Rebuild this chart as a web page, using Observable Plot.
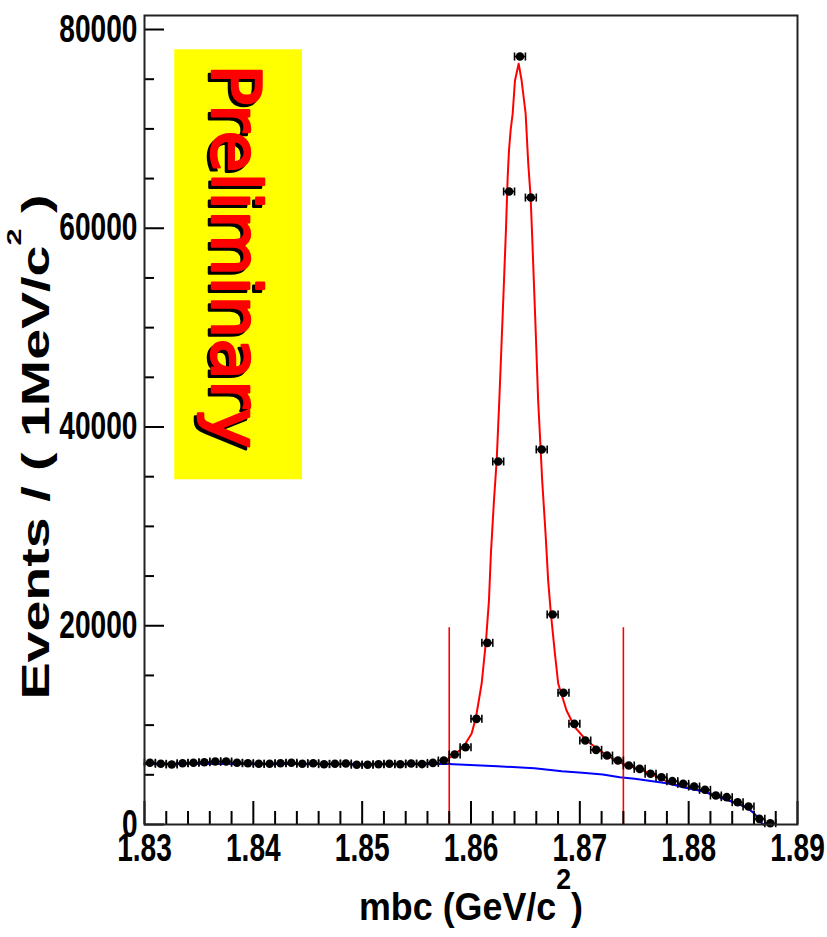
<!DOCTYPE html>
<html>
<head>
<meta charset="utf-8">
<script src="https://cdn.jsdelivr.net/npm/d3@7"></script>
<script src="https://cdn.jsdelivr.net/npm/@observablehq/plot@0.6"></script>
<style>
  html, body { margin: 0; padding: 0; background: #ffffff; }
</style>
</head>
<body>
<div id="chart"></div>
<script>
// Beam-constrained mass spectrum, 1 MeV/c^2 bins (bin centres in GeV/c^2)
const massBins = [
  1.8305, 1.8315, 1.8325, 1.8335, 1.8345, 1.8355, 1.8365, 1.8375, 1.8385, 1.8395,
  1.8405, 1.8415, 1.8425, 1.8435, 1.8445, 1.8455, 1.8465, 1.8475, 1.8485, 1.8495,
  1.8505, 1.8515, 1.8525, 1.8535, 1.8545, 1.8555, 1.8565, 1.8575, 1.8585, 1.8595,
  1.8605, 1.8615, 1.8625, 1.8635, 1.8645, 1.8655, 1.8665, 1.8675, 1.8685, 1.8695,
  1.8705, 1.8715, 1.8725, 1.8735, 1.8745, 1.8755, 1.8765, 1.8775, 1.8785, 1.8795,
  1.8805, 1.8815, 1.8825, 1.8835, 1.8845, 1.8855, 1.8865, 1.8875
];
const eventCounts = [
  6210, 6110, 6040, 6170, 6210, 6270, 6340, 6340, 6210, 6170,
  6110, 6110, 6170, 6210, 6110, 6170, 6070, 6110, 6140, 6010,
  6010, 6070, 6110, 6070, 6140, 6080, 6200, 6440, 7040, 7780,
  10630, 18280, 36530, 63700, 77280, 63090, 37740, 21130, 13250, 10130,
  8450, 7510, 6940, 6440, 5940, 5600, 5100, 4760, 4360, 4090,
  3820, 3490, 2920, 2750, 2240, 1810, 570, 130
];
const binHalfWidth = 0.0005;

// Total fit (signal + background)
const fitMass = [
  1.8300, 1.8443, 1.8550, 1.85716, 1.85761, 1.85838, 1.85929, 1.86006, 1.86046, 1.86098,
  1.86138, 1.86165, 1.86183, 1.86211, 1.86236, 1.86260, 1.86290, 1.86321, 1.86337, 1.86349,
  1.86364, 1.86383, 1.86404, 1.86438, 1.86465, 1.86502, 1.86526, 1.86548, 1.86560, 1.86590,
  1.86617, 1.86639, 1.86654, 1.86685, 1.86709, 1.86734, 1.86771, 1.86801, 1.86878, 1.86954,
  1.87061, 1.87183, 1.87306, 1.87428, 1.87550, 1.87642, 1.87734, 1.87826, 1.87950, 1.88128,
  1.88284, 1.88438, 1.88529, 1.88590, 1.88636, 1.88676, 1.88690
];
const fitEvents = [
  6110, 6100, 6108, 6169, 6440, 6944, 7779, 9157, 10798, 14189,
  18516, 22541, 27271, 32604, 36629, 42667, 51000, 59774, 65139, 67825,
  69838, 71548, 74869, 76550, 74869, 71548, 66516, 63125, 59774, 51000,
  42667, 37968, 34617, 29283, 24554, 21233, 17208, 14189, 11472, 9791,
  8453, 7447, 6611, 5937, 5605, 5132, 4730, 4150, 3800, 3380,
  2760, 2150, 1745, 1240, 676, 70, 0
];

// Background component
const bkgMass = [
  1.8300, 1.8443, 1.8579, 1.86243, 1.86583, 1.86835, 1.87023, 1.87211, 1.87367, 1.87505,
  1.87619, 1.87734, 1.87826, 1.87950, 1.88128, 1.88284, 1.88438, 1.88529, 1.88590, 1.88636,
  1.88676, 1.88690
];
const bkgEvents = [
  6110, 6100, 6090, 5866, 5665, 5364, 5203, 5032, 4760, 4599,
  4428, 4257, 4096, 3753, 3351, 2747, 2143, 1741, 1238, 674,
  70, 0
];

// Signal window cut lines
const signalWindow = [1.858, 1.874];
const windowTop = 19800;

// Axis ticks
const xMajorTicks = [1.83, 1.84, 1.85, 1.86, 1.87, 1.88, 1.89];
const xMinorTicks = [
  1.832, 1.834, 1.836, 1.838, 1.842, 1.844, 1.846, 1.848,
  1.852, 1.854, 1.856, 1.858, 1.862, 1.864, 1.866, 1.868,
  1.872, 1.874, 1.876, 1.878, 1.882, 1.884, 1.886, 1.888
];
const yMajorTicks = [0, 20000, 40000, 60000, 80000];
const yMinorTicks = [5000, 10000, 15000, 25000, 30000, 35000, 45000, 50000, 55000, 65000, 70000, 75000];

// Stamp and titles
const stampText = "Preliminary";
const stampBox = {x1: 1.83278, x2: 1.84452, y1: 34690, y2: 77960};
const stampAt = {x: 1.83824, y: 57190};
const xTitle = "mbc (GeV/c²)";
const yTitle = "Events / ( 1MeV/c² )";

const points = massBins.map((m, i) => ({mass: m, events: eventCounts[i], lo: m - binHalfWidth, hi: m + binHalfWidth}));
const fit = fitMass.map((m, i) => ({mass: m, events: fitEvents[i]}));
const bkg = bkgMass.map((m, i) => ({mass: m, events: bkgEvents[i]}));

// vertical end cap for the bin-width error bars
const capSymbol = {
  draw(ctx, size) {
    const h = Math.sqrt(size / Math.PI);
    ctx.moveTo(0, -h);
    ctx.lineTo(0, h);
  }
};

const stampStyle = {
  x: "x", y: "y", text: () => stampText, rotate: 90, lineAnchor: "middle",
  fontFamily: "'DejaVu Sans', sans-serif", fontWeight: "normal", fontSize: 68,
  strokeWidth: 2.5, strokeLinejoin: "round"
};

const chart = Plot.plot({
  width: 827,
  height: 937,
  marginLeft: 144,
  marginRight: 30,
  marginTop: 15,
  marginBottom: 113,
  x: {domain: [1.83, 1.89]},
  y: {domain: [0, 81410]},
  style: {
    fontFamily: "'Liberation Sans', Arial, Helvetica, sans-serif",
    fontWeight: "bold",
    fontSize: "38px",
    color: "black",
    background: "white"
  },
  marks: [
    Plot.rect([stampBox], {x1: "x1", x2: "x2", y1: "y1", y2: "y2", fill: "#ffff00"}),
    Plot.text([stampAt], {...stampStyle, fill: "black", stroke: "black", dx: -3, dy: 3}),
    Plot.text([stampAt], {...stampStyle, fill: "#ff0000", stroke: "#ff0000"}),
    Plot.line(fit, {x: "mass", y: "events", stroke: "#ff0000", strokeWidth: 2}),
    Plot.line(bkg, {x: "mass", y: "events", stroke: "#0000ff", strokeWidth: 2}),
    Plot.ruleX(signalWindow, {y1: 0, y2: windowTop, stroke: "#ff0000", strokeWidth: 1.6}),
    Plot.ruleY(points, {x1: "lo", x2: "hi", y: "events", stroke: "black", strokeWidth: 1.6}),
    Plot.dot(points, {x: "lo", y: "events", symbol: capSymbol, r: 4, stroke: "black", strokeWidth: 1.6}),
    Plot.dot(points, {x: "hi", y: "events", symbol: capSymbol, r: 4, stroke: "black", strokeWidth: 1.6}),
    Plot.dot(points, {x: "mass", y: "events", r: 4.3, fill: "black"}),
    Plot.axisX({ticks: xMajorTicks, tickSize: -23, strokeWidth: 2, fill: "none", tickFormat: () => "", label: null}),
    Plot.axisX({ticks: xMinorTicks, tickSize: -13, strokeWidth: 2, fill: "none", tickFormat: () => "", label: null}),
    Plot.axisX({ticks: xMajorTicks, tickSize: 0, tickPadding: 10, tickFormat: d3.format(".2f"), label: null}),
    Plot.axisY({ticks: yMajorTicks, tickSize: -20, strokeWidth: 2, fill: "none", tickFormat: () => "", label: null}),
    Plot.axisY({ticks: yMinorTicks, tickSize: -10, strokeWidth: 2, fill: "none", tickFormat: () => "", label: null}),
    Plot.axisY({ticks: yMajorTicks, tickSize: 0, tickPadding: 7, tickFormat: (d) => String(d), label: null}),
    Plot.frame({stroke: "#222", strokeWidth: 2}),
    Plot.text([xTitle], {text: (d) => d, frameAnchor: "bottom", textAnchor: "middle", dy: 83, fontSize: 39, lineAnchor: "middle"}),
    Plot.text([yTitle], {text: (d) => d, frameAnchor: "left", textAnchor: "middle", rotate: -90, dx: -108, dy: 27, fontSize: 38, lineAnchor: "middle"})
  ]
});

document.getElementById("chart").appendChild(chart);

// set a text's advance along its baseline, scaling glyphs to fit
function fitLength(len) {
  return function () {
    const target = typeof len === "function" ? len(this.getComputedTextLength()) : len;
    this.setAttribute("textLength", target.toFixed(1));
    this.setAttribute("lengthAdjust", "spacingAndGlyphs");
  };
}

// raise the squared exponent in the unit labels
function raiseSquare(supSize, lift) {
  return function () {
    const [before, after] = this.textContent.split("²");
    const el = d3.select(this);
    el.text(null);
    el.append("tspan").text(before);
    el.append("tspan").attr("font-size", supSize).attr("dy", -lift).text("2");
    el.append("tspan").attr("dy", lift).text(after);
  };
}

const svg = d3.select(chart);
svg.selectAll('[aria-label="x-axis tick label"] text').each(fitLength((w) => w * 0.74));
svg.selectAll('[aria-label="y-axis tick label"] text').each(fitLength((w) => w * 0.74));
svg.selectAll("text")
  .filter(function () { return this.textContent === xTitle; })
  .each(raiseSquare(29, 31))
  .each(fitLength(224));
svg.selectAll("text")
  .filter(function () { return this.textContent === yTitle; })
  .each(raiseSquare(21, 28))
  .each(fitLength(505));
</script>
</body>
</html>
